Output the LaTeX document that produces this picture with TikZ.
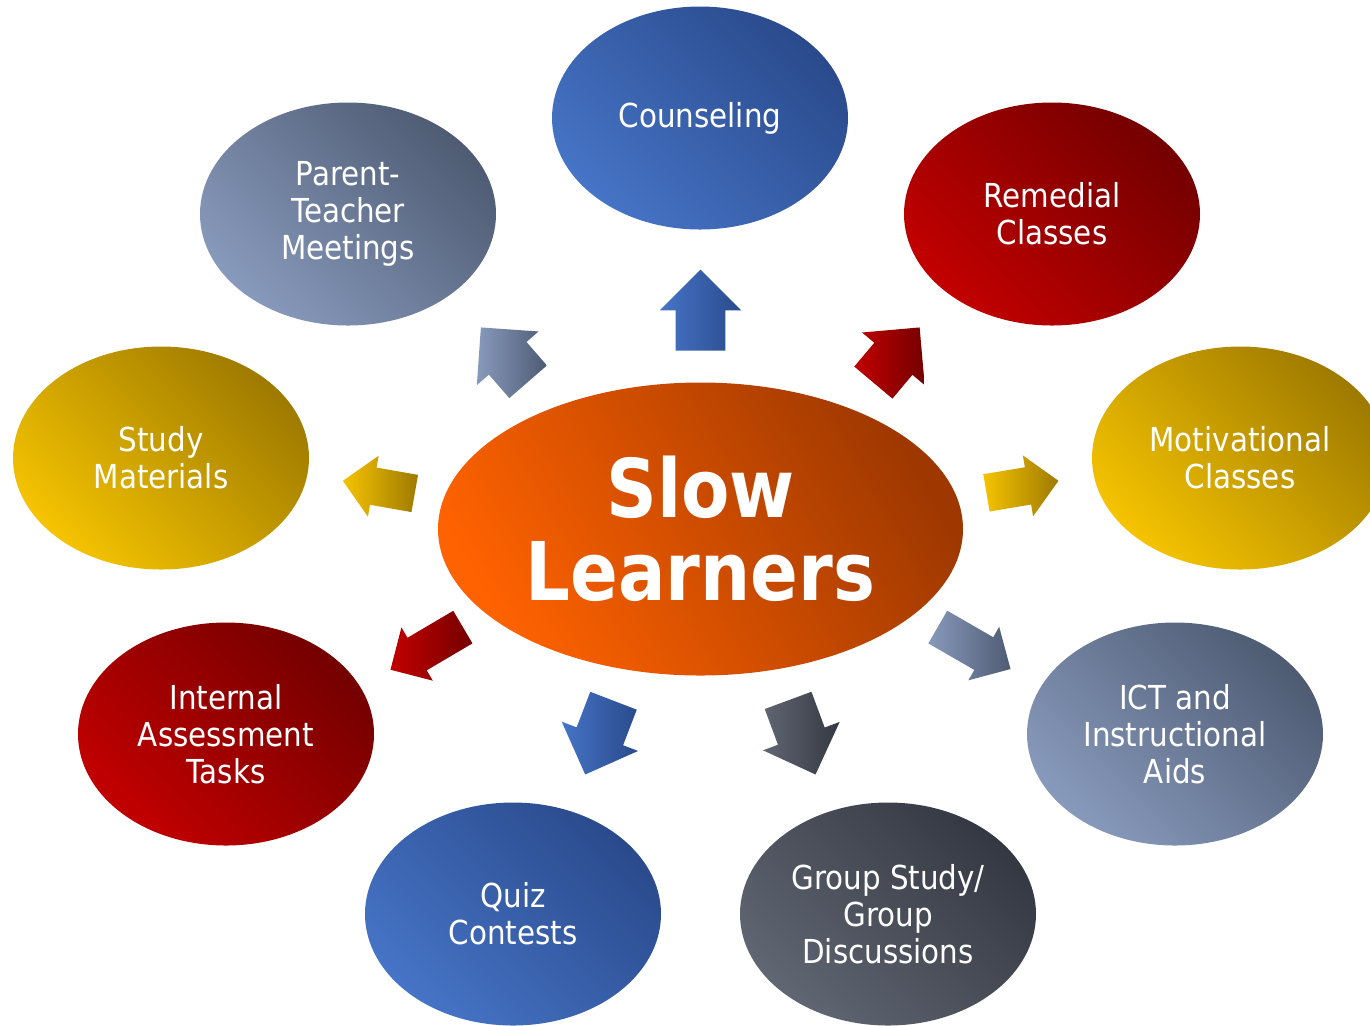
\documentclass[tikz,border=0pt]{standalone}
\usepackage{fontspec}
\setmainfont{DejaVu Sans}[FakeStretch=0.89, BoldFeatures={FakeStretch=0.87}]
\usepackage{xcolor}
\usetikzlibrary{shapes.geometric, shapes.arrows, positioning}
\definecolor{bluelight}{RGB}{70, 116, 198}
\definecolor{bluedark}{RGB}{42, 74, 140}
\definecolor{redlight}{RGB}{194, 0, 0}
\definecolor{reddark}{RGB}{116, 0, 0}
\definecolor{goldlight}{RGB}{245, 195, 0}
\definecolor{golddark}{RGB}{158, 122, 0}
\definecolor{slatelight}{RGB}{136, 154, 188}
\definecolor{slatedark}{RGB}{78, 91, 115}
\definecolor{greylight}{RGB}{96, 102, 114}
\definecolor{greydark}{RGB}{52, 56, 66}
\definecolor{orangelight}{RGB}{255, 98, 0}
\definecolor{orangedark}{RGB}{158, 56, 0}

\begin{document}
\begin{tikzpicture}[
    x=0.5pt, y=-0.5pt,
    topic/.style={ellipse, minimum width=148pt, minimum height=111.5pt, inner sep=0pt,
                  align=center, text=white, font=\fontsize{16.5pt}{18.5pt}\selectfont},
    core/.style={ellipse, minimum width=262.5pt, minimum height=146.5pt, inner sep=0pt,
                 align=center, text=white, font=\fontsize{40.5pt}{41.5pt}\selectfont\bfseries,
                 bottom color=orangelight, top color=orangedark, shading angle=-60},
    tint/.style 2 args={bottom color=#1, top color=#2, shading angle=-45},
    ptint/.style 2 args={left color=#1, right color=#2},
    bigpointer/.style={single arrow, anchor=tip, inner sep=0pt, text height=24.5pt, text depth=0pt,
                       single arrow head extend=8pt, minimum height=#1},
    smallpointer/.style={single arrow, anchor=tip, inner sep=0pt, text height=18.5pt, text depth=0pt,
                         single arrow head extend=6pt, minimum height=#1}
]
\useasboundingbox (0,0) rectangle (1370,1025);

% Centre
\node[core] (slow) at (700.5,529) {Slow\\Learners};

% Bubbles, clockwise from the top
\node[topic, tint={bluelight}{bluedark}] (counsel) at (700,118) {Counseling};
\node[topic, tint={redlight}{reddark}] (remedial) at (1052,214) {Remedial\\Classes};
\node[topic, tint={goldlight}{golddark}] (motivation) at (1240,458) {Motivational\\Classes};
\node[topic, tint={slatelight}{slatedark}] (ict) at (1175,734) {ICT and\\Instructional\\Aids};
\node[topic, tint={greylight}{greydark}] (groupstudy) at (888,914) {Group Study/\\Group\\Discussions};
\node[topic, tint={bluelight}{bluedark}] (quiz) at (513,914) {Quiz\\Contests};
\node[topic, tint={redlight}{reddark}] (assessment) at (226,734) {Internal\\Assessment\\Tasks};
\node[topic, tint={goldlight}{golddark}] (materials) at (161,458) {Study\\Materials};
\node[topic, tint={slatelight}{slatedark}] (meetings) at (348,214) {Parent-\\Teacher\\Meetings};

% Block arrows round the centre
\node[bigpointer=40.5pt, ptint={bluelight}{bluedark}, rotate=90] (pcounsel) at (700.5,269) {};
\node[bigpointer=36pt, ptint={redlight}{reddark}, rotate=50] (premedial) at (920,327) {};
\node[smallpointer=36.5pt, ptint={goldlight}{golddark}, rotate=9.5] (pmotivation) at (1059,480.7) {};
\node[smallpointer=42pt, ptint={slatelight}{slatedark}, rotate=-30] (pict) at (1011,669.3) {};
\node[bigpointer=39.5pt, ptint={greylight}{greydark}, rotate=-69.7] (pgroupstudy) at (815.7,775) {};
\node[bigpointer=39.5pt, ptint={bluelight}{bluedark}, rotate=249] (pquiz) at (585,775) {};
\node[smallpointer=42pt, ptint={redlight}{reddark}, rotate=210.5] (passessment) at (390,670) {};
\node[smallpointer=36.5pt, ptint={goldlight}{golddark}, rotate=170] (pmaterials) at (342.3,480.7) {};
\node[bigpointer=36pt, ptint={slatelight}{slatedark}, rotate=131] (pmeetings) at (480.5,327) {};

\end{tikzpicture}
\end{document}
